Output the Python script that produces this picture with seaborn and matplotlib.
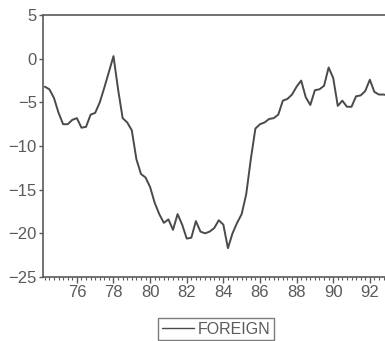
import numpy as np
import pandas as pd
import matplotlib
matplotlib.use("Agg")
import matplotlib.pyplot as plt
import seaborn as sns
from matplotlib.ticker import MultipleLocator

# quarterly observations, starting 1974Q2
start_year = 74.25
foreign = [-3.2, -3.5, -4.5, -6.2, -7.5, -7.5, -7.0, -6.8, -7.9, -7.8,
           -6.4, -6.2, -5.0, -3.3, -1.5, 0.3, -3.5, -6.8, -7.3, -8.2,
           -11.5, -13.2, -13.6, -14.7, -16.5, -17.8, -18.8, -18.4, -19.6, -17.8,
           -19.0, -20.6, -20.5, -18.6, -19.8, -20.0, -19.8, -19.4, -18.5, -19.0,
           -21.7, -20.0, -18.8, -17.8, -15.5, -11.5, -8.0, -7.5, -7.3, -6.9,
           -6.8, -6.4, -4.8, -4.6, -4.1, -3.2, -2.5, -4.4, -5.3, -3.6,
           -3.5, -3.1, -1.0, -2.2, -5.4, -4.8, -5.5, -5.5, -4.3, -4.2,
           -3.7, -2.4, -3.8, -4.1, -4.1, -4.2]
year_ticks = [76, 78, 80, 82, 84, 86, 88, 90, 92]
y_ticks = [5, 0, -5, -10, -15, -20, -25]

df = pd.DataFrame({
    "year": start_year + 0.25 * np.arange(len(foreign)),
    "FOREIGN": foreign,
})

sns.set_style("ticks")
plt.rcParams['font.family'] = ['Liberation Sans', 'DejaVu Sans']

grey = "#5a5a5a"
fig = plt.figure(figsize=(3.85, 3.41), dpi=100)
ax = fig.add_axes([0.1117, 0.1877, 0.9107, 0.768])

sns.lineplot(data=df, x="year", y="FOREIGN", ax=ax, color="#4a4a4a",
             linewidth=1.4, label="FOREIGN", legend=False)

ax.set_xlim(74.15, 93.3)
ax.set_ylim(-25, 5)
ax.set_xticks(year_ticks)
ax.set_xticklabels([str(t) for t in year_ticks])
ax.xaxis.set_minor_locator(MultipleLocator(0.25))
ax.set_yticks(y_ticks)
ax.set_xlabel("")
ax.set_ylabel("")

for side in ["left", "top", "bottom"]:
    ax.spines[side].set_color(grey)
    ax.spines[side].set_linewidth(1.2)
ax.spines["right"].set_visible(False)
ax.tick_params(axis="both", which="major", labelsize=12, colors=grey,
               length=4, width=1, pad=2)
ax.tick_params(axis="x", which="minor", length=2, width=0.8, colors=grey)
ax.tick_params(axis="y", which="major", length=3, pad=1.5)

handle = plt.Line2D([], [], color="#4a4a4a", linewidth=1)
leg = fig.legend([handle], ["FOREIGN"], loc="center",
                 bbox_to_anchor=(216 / 385, 1 - 329 / 341),
                 frameon=True, fancybox=False, handlelength=2.0,
                 handletextpad=0.25, borderpad=0.25, fontsize=11.5)
leg.get_frame().set_edgecolor(grey)
leg.get_frame().set_linewidth(1)
for t in leg.get_texts():
    t.set_color(grey)

fig.savefig("out.png", dpi=100)
